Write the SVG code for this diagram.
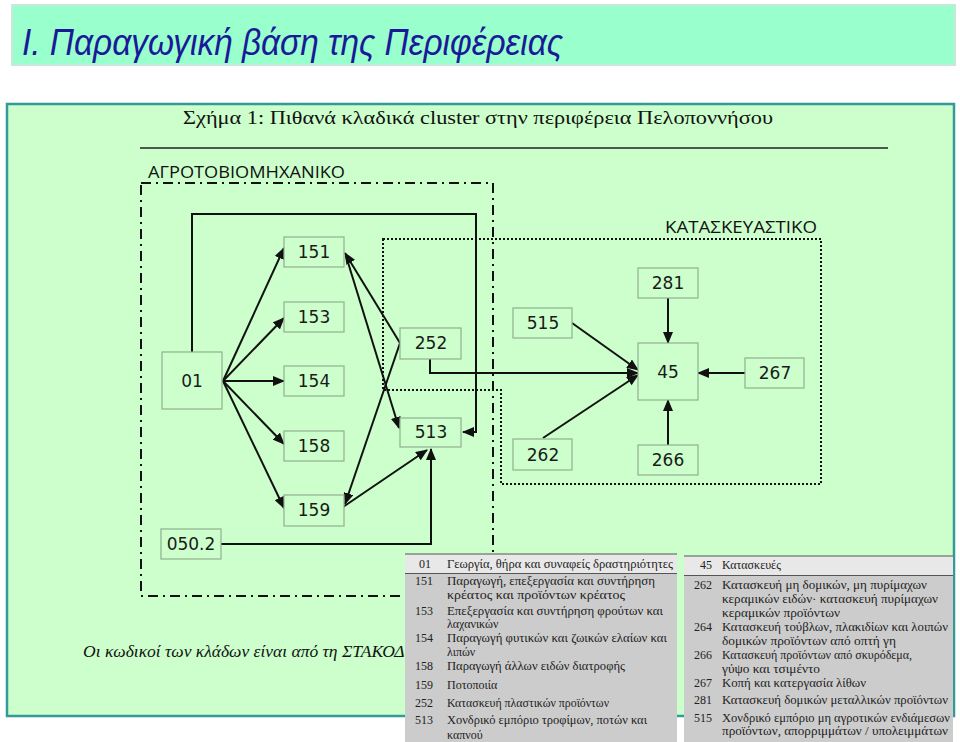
<svg xmlns="http://www.w3.org/2000/svg" width="960" height="742" viewBox="0 0 960 742">
<style>
.box{fill:#ccffcc;stroke:#8fb08f;stroke-width:1.2}
.lbl{font-family:"DejaVu Sans","Liberation Sans",sans-serif;font-size:17px;fill:#1a1a1a;text-anchor:middle;dominant-baseline:central}
.con{fill:none;stroke:#111;stroke-width:2}
.tx{font-family:"Liberation Serif","DejaVu Serif",serif;font-size:12px;fill:#222}
.cd{text-anchor:end}
</style>
<defs>
<marker id="ah" viewBox="0 0 12 10" refX="11" refY="5" markerWidth="12" markerHeight="10" markerUnits="userSpaceOnUse" orient="auto">
<path d="M0,0 L12,5 L0,10 Z" fill="#111"/>
</marker>
</defs>
<rect width="960" height="742" fill="#ffffff"/>
<!-- title banner -->
<rect x="12" y="5" width="943" height="60" fill="#99ffcc" stroke="#c8e8dc" stroke-width="2"/>
<text x="22" y="55" font-family="Liberation Sans, sans-serif" font-style="italic" font-size="37" fill="#1a1a99" textLength="541" lengthAdjust="spacingAndGlyphs">Ι. Παραγωγική βάση της Περιφέρειας</text>
<!-- panel -->
<rect x="7" y="104" width="947" height="612" fill="#ccffcc" stroke="#339999" stroke-width="2.5"/>
<text x="478" y="124" font-family="Liberation Serif, serif" font-size="19" fill="#111" text-anchor="middle" textLength="590" lengthAdjust="spacingAndGlyphs">Σχήμα 1: Πιθανά κλαδικά cluster στην περιφέρεια Πελοποννήσου</text>
<line x1="140" y1="148" x2="888" y2="148" stroke="#222" stroke-width="1.5"/>
<text x="148" y="178" font-family="Open Sans, Liberation Sans, sans-serif" font-size="17" fill="#111" textLength="197" lengthAdjust="spacingAndGlyphs">ΑΓΡΟΤΟΒΙΟΜΗΧΑΝΙΚΟ</text>
<text x="817" y="233" font-family="Open Sans, Liberation Sans, sans-serif" font-size="17" fill="#111" text-anchor="end" textLength="152" lengthAdjust="spacingAndGlyphs">ΚΑΤΑΣΚΕΥΑΣΤΙΚΟ</text>
<!-- cluster outlines -->
<rect x="141" y="183" width="352" height="413" fill="none" stroke="#111" stroke-width="2" stroke-dasharray="10 5 2 5"/>
<polygon points="383,239 821,239 821,484 501,484 501,390 383,390" fill="none" stroke="#111" stroke-width="2" stroke-dasharray="2 2"/>
<!-- connectors -->
<g id="connectors">
<path class="con" d="M192,352 V214 H476 V432 H463" marker-end="url(#ah)"/>
<line class="con" x1="223" y1="381" x2="284" y2="248" marker-end="url(#ah)"/>
<line class="con" x1="223" y1="381" x2="284" y2="318" marker-end="url(#ah)"/>
<line class="con" x1="223" y1="381" x2="284" y2="381" marker-end="url(#ah)"/>
<line class="con" x1="223" y1="381" x2="284" y2="444" marker-end="url(#ah)"/>
<line class="con" x1="223" y1="381" x2="284" y2="508" marker-end="url(#ah)"/>
<line class="con" x1="400" y1="343" x2="345" y2="253" marker-end="url(#ah)"/>
<line class="con" x1="400" y1="343" x2="345" y2="504" marker-end="url(#ah)"/>
<line class="con" x1="346" y1="256" x2="399" y2="428" marker-end="url(#ah)"/>
<line class="con" x1="343" y1="507" x2="427" y2="450" marker-end="url(#ah)"/>
<path class="con" d="M221,544 H431 V449" marker-end="url(#ah)"/>
<path class="con" d="M430,359 V373 H638" marker-end="url(#ah)"/>
<line class="con" x1="572" y1="323" x2="638" y2="370" marker-end="url(#ah)"/>
<line class="con" x1="543" y1="438" x2="638" y2="375" marker-end="url(#ah)"/>
<line class="con" x1="668" y1="298" x2="668" y2="343" marker-end="url(#ah)"/>
<line class="con" x1="745" y1="373" x2="698" y2="373" marker-end="url(#ah)"/>
<line class="con" x1="668" y1="445" x2="668" y2="400" marker-end="url(#ah)"/>
</g>
<!-- nodes -->
<g id="n01"><rect class="box" x="162" y="352" width="60" height="57"/><text class="lbl" x="192" y="381" font-size="19">01</text></g>
<g id="n151"><rect class="box" x="284" y="237" width="60" height="30"/><text class="lbl" x="314" y="252">151</text></g>
<g id="n153"><rect class="box" x="284" y="302" width="60" height="30"/><text class="lbl" x="314" y="317">153</text></g>
<g id="n154"><rect class="box" x="284" y="366" width="60" height="30"/><text class="lbl" x="314" y="381">154</text></g>
<g id="n158"><rect class="box" x="284" y="431" width="60" height="30"/><text class="lbl" x="314" y="446">158</text></g>
<g id="n159"><rect class="box" x="284" y="495" width="60" height="31"/><text class="lbl" x="314" y="510">159</text></g>
<g id="n0502"><rect class="box" x="161" y="529" width="60" height="30"/><text class="lbl" x="191" y="544" font-size="14">050.2</text></g>
<g id="n252"><rect class="box" x="400" y="328" width="61" height="31"/><text class="lbl" x="431" y="343">252</text></g>
<g id="n513"><rect class="box" x="400" y="418" width="61" height="29"/><text class="lbl" x="431" y="432">513</text></g>
<g id="n515"><rect class="box" x="513" y="308" width="59" height="30"/><text class="lbl" x="543" y="323">515</text></g>
<g id="n262"><rect class="box" x="513" y="439" width="59" height="31"/><text class="lbl" x="543" y="455">262</text></g>
<g id="n281"><rect class="box" x="638" y="268" width="60" height="30"/><text class="lbl" x="668" y="283">281</text></g>
<g id="n45"><rect class="box" x="638" y="343" width="60" height="57"/><text class="lbl" x="668" y="372">45</text></g>
<g id="n267"><rect class="box" x="745" y="358" width="59" height="30"/><text class="lbl" x="775" y="373">267</text></g>
<g id="n266"><rect class="box" x="638" y="445" width="60" height="30"/><text class="lbl" x="668" y="460">266</text></g>
<!-- note -->
<text x="83" y="657" font-family="Liberation Serif, serif" font-style="italic" font-size="17.5" fill="#111">Οι κωδικοί των κλάδων είναι από τη ΣΤΑΚΟΔ</text>
<!-- left legend table -->
<g id="legend-left">
<rect x="405" y="554" width="272" height="188" fill="#cccccc"/>
<rect x="405" y="554" width="272" height="19" fill="#e8e8e8"/>
<line x1="405" y1="554" x2="677" y2="554" stroke="#555" stroke-width="1"/>
<line x1="405" y1="573.5" x2="677" y2="573.5" stroke="#555" stroke-width="1"/>
<g class="tx">
<text class="cd" x="431" y="568">01</text><text x="447" y="568" textLength="226" lengthAdjust="spacingAndGlyphs">Γεωργία, θήρα και συναφείς δραστηριότητες</text>
<text class="cd" x="433" y="585">151</text><text x="447" y="585" textLength="208" lengthAdjust="spacingAndGlyphs">Παραγωγή, επεξεργασία και συντήρηση</text>
<text x="447" y="599" textLength="178" lengthAdjust="spacingAndGlyphs">κρέατος και προϊόντων κρέατος</text>
<text class="cd" x="433" y="615">153</text><text x="447" y="615" textLength="216" lengthAdjust="spacingAndGlyphs">Επεξεργασία και συντήρηση φρούτων και</text>
<text x="447" y="628">λαχανικών</text>
<text class="cd" x="433" y="642">154</text><text x="447" y="642" textLength="220" lengthAdjust="spacingAndGlyphs">Παραγωγή φυτικών και ζωικών ελαίων και</text>
<text x="447" y="656">λιπών</text>
<text class="cd" x="433" y="670">158</text><text x="447" y="670" textLength="178" lengthAdjust="spacingAndGlyphs">Παραγωγή άλλων ειδών διατροφής</text>
<text class="cd" x="433" y="689">159</text><text x="447" y="689">Ποτοποιία</text>
<text class="cd" x="433" y="707">252</text><text x="447" y="707" textLength="162" lengthAdjust="spacingAndGlyphs">Κατασκευή πλαστικών προϊόντων</text>
<text class="cd" x="433" y="724">513</text><text x="447" y="724" textLength="200" lengthAdjust="spacingAndGlyphs">Χονδρικό εμπόριο τροφίμων, ποτών και</text>
<text x="447" y="739">καπνού</text>
</g>
</g>
<!-- right legend table -->
<g id="legend-right">
<rect x="684" y="556" width="269" height="186" fill="#cccccc"/>
<rect x="684" y="556" width="269" height="19" fill="#e8e8e8"/>
<line x1="684" y1="556" x2="953" y2="556" stroke="#555" stroke-width="1"/>
<line x1="684" y1="575.5" x2="953" y2="575.5" stroke="#555" stroke-width="1"/>
<g class="tx">
<text class="cd" x="712" y="569">45</text><text x="722" y="569">Κατασκευές</text>
<text class="cd" x="712" y="589">262</text><text x="722" y="589" textLength="205" lengthAdjust="spacingAndGlyphs">Κατασκευή μη δομικών, μη πυρίμαχων</text>
<text x="722" y="603" textLength="216" lengthAdjust="spacingAndGlyphs">κεραμικών ειδών· κατασκευή πυρίμαχων</text>
<text x="722" y="617" textLength="118" lengthAdjust="spacingAndGlyphs">κεραμικών προϊόντων</text>
<text class="cd" x="712" y="631">264</text><text x="722" y="631" textLength="226" lengthAdjust="spacingAndGlyphs">Κατασκευή τούβλων, πλακιδίων και λοιπών</text>
<text x="722" y="645" textLength="174" lengthAdjust="spacingAndGlyphs">δομικών προϊόντων από οπτή γη</text>
<text class="cd" x="712" y="659">266</text><text x="722" y="659" textLength="190" lengthAdjust="spacingAndGlyphs">Κατασκευή προϊόντων από σκυρόδεμα,</text>
<text x="722" y="673" textLength="98" lengthAdjust="spacingAndGlyphs">γύψο και τσιμέντο</text>
<text class="cd" x="712" y="687">267</text><text x="722" y="687" textLength="144" lengthAdjust="spacingAndGlyphs">Κοπή και κατεργασία λίθων</text>
<text class="cd" x="712" y="704">281</text><text x="722" y="704" textLength="226" lengthAdjust="spacingAndGlyphs">Κατασκευή δομικών μεταλλικών προϊόντων</text>
<text class="cd" x="712" y="722">515</text><text x="722" y="722" textLength="228" lengthAdjust="spacingAndGlyphs">Χονδρικό εμπόριο μη αγροτικών ενδιάμεσων</text>
<text x="722" y="735" textLength="226" lengthAdjust="spacingAndGlyphs">προϊόντων, απορριμμάτων / υπολειμμάτων</text>
</g>
</g>
</svg>
